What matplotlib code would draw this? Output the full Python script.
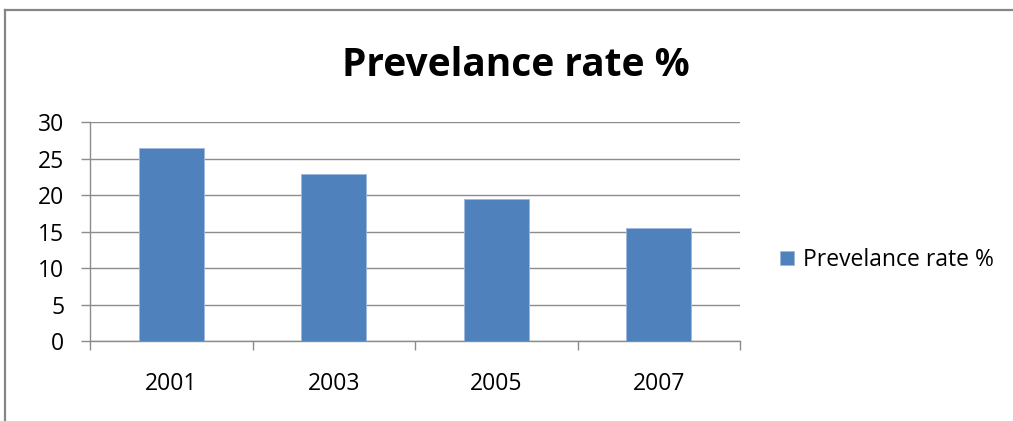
"""Prevalence rate bar chart, Excel-style."""

import matplotlib

matplotlib.use("Agg")
import matplotlib.pyplot as plt
from matplotlib.lines import Line2D

years = ["2001", "2003", "2005", "2007"]
prevalence = [26.4, 22.9, 19.4, 15.5]
y_ticks = [0, 5, 10, 15, 20, 25, 30]
series_name = "Prevelance rate %"
title = "Prevelance rate %"

BAR_COLOR = "#4F81BD"
GRID_COLOR = "#8C8C8C"
TEXT_COLOR = "#000000"
LABEL_SIZE = 16.5

plt.rcParams["font.family"] = ["Open Sans", "DejaVu Sans"]

fig = plt.figure(figsize=(10.13, 4.21), dpi=100)
ax = fig.add_axes([90 / 1013, 1 - 341 / 421, 650 / 1013, 219 / 421])

x = list(range(len(years)))
ax.bar(x, prevalence, width=0.4, color=BAR_COLOR, edgecolor="#9DB9DC",
       linewidth=0.6, label=series_name, zorder=3)

ax.set_xlim(-0.5, len(years) - 0.5)
ax.set_ylim(0, 30)
ax.set_yticks(y_ticks)
ax.set_yticklabels([str(v) for v in y_ticks], fontsize=LABEL_SIZE,
                   color=TEXT_COLOR)
ax.grid(True, axis="y", color=GRID_COLOR, linewidth=1.0, zorder=0)

# category labels centred, tick marks at category boundaries
ax.set_xticks(x)
ax.set_xticklabels(years, fontsize=LABEL_SIZE, color=TEXT_COLOR)
ax.tick_params(axis="x", which="major", length=0, pad=22)
ax.set_xticks([i - 0.5 for i in range(len(years) + 1)], minor=True)
ax.tick_params(axis="x", which="minor", length=6.5, width=1, color=GRID_COLOR,
               direction="out")
ax.tick_params(axis="y", length=6.5, width=1, color=GRID_COLOR, pad=12)

for side in ("top", "right"):
    ax.spines[side].set_visible(False)
for side in ("left", "bottom"):
    ax.spines[side].set_color(GRID_COLOR)
    ax.spines[side].set_linewidth(1.0)

fig.text(516 / 1013, 1 - 76 / 421, title, ha="center", va="baseline",
         fontsize=28, fontweight="bold", color=TEXT_COLOR)

fig.legend(loc="center left", bbox_to_anchor=(780 / 1013, 1 - 260 / 421),
           frameon=False, fontsize=LABEL_SIZE, handlelength=0.6,
           handleheight=0.6, handletextpad=0.4, borderpad=0,
           borderaxespad=0)

# chart area frame: only its top and left edges fall inside the picture
frame_x = 4.5 / 1013
frame_y = 1 - 9.5 / 421
fig.add_artist(Line2D([frame_x, 1.0], [frame_y, frame_y],
                      transform=fig.transFigure, color="#868686", lw=1.6))
fig.add_artist(Line2D([frame_x, frame_x], [0.0, frame_y],
                      transform=fig.transFigure, color="#868686", lw=1.6))

fig.savefig("out.png", dpi=100)
